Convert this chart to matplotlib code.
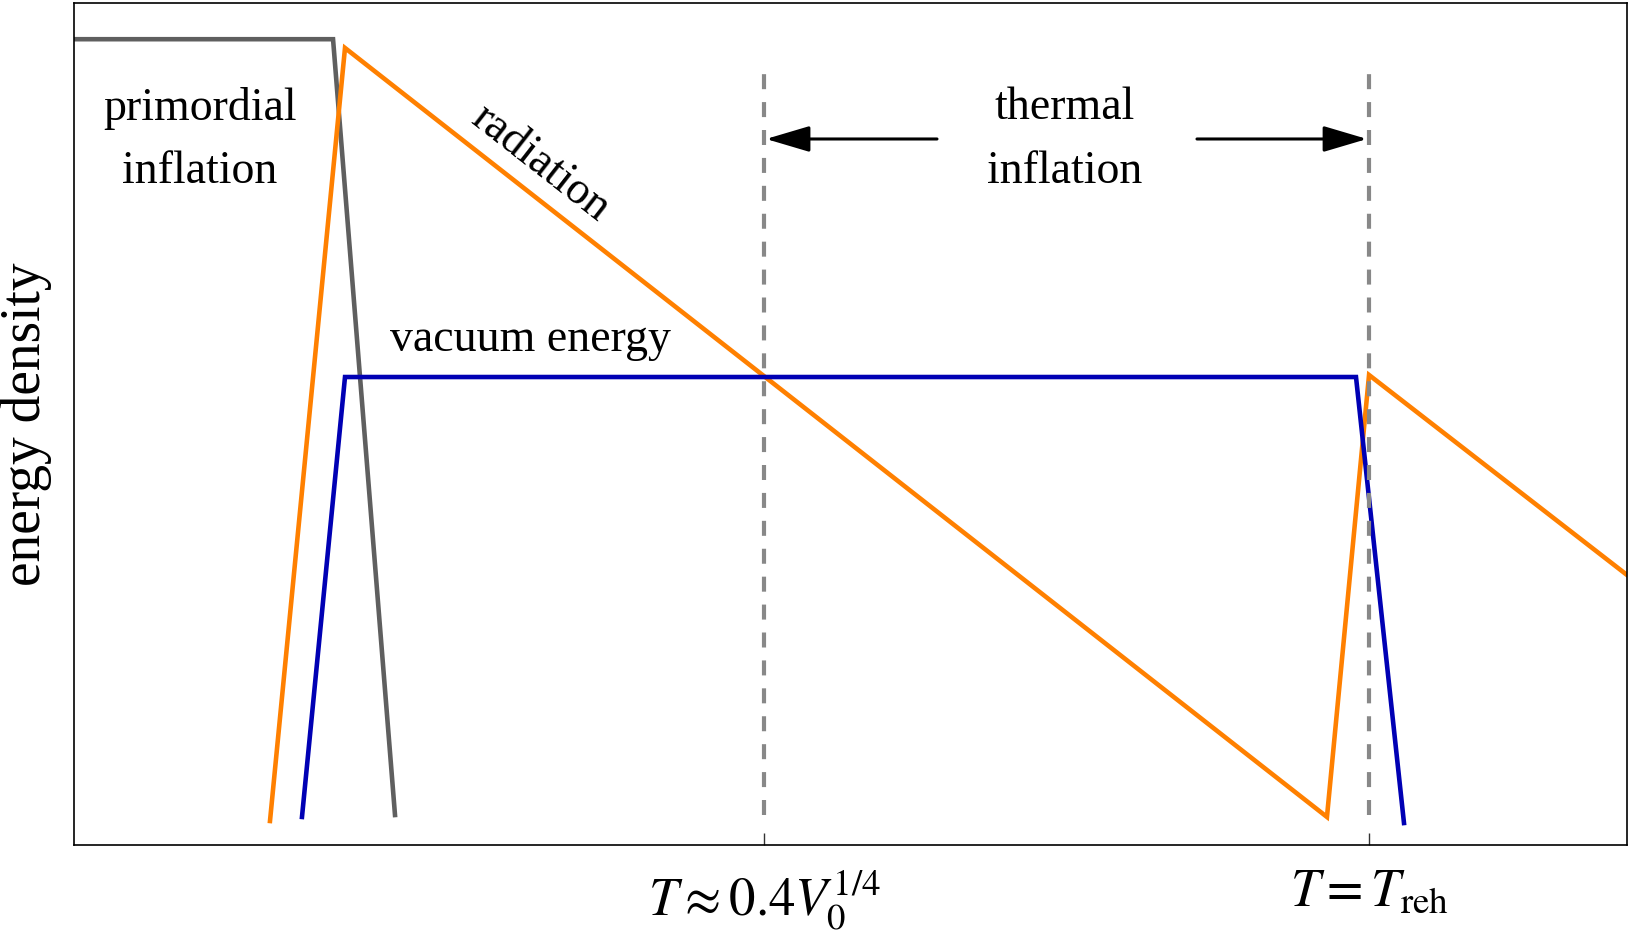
import numpy as np
import matplotlib.pyplot as plt

plt.rcParams['font.family'] = 'Liberation Serif'
plt.rcParams['mathtext.fontset'] = 'stix'

# piecewise curves (x ~ time / log scale factor, y ~ log energy density)
gray_x = [0.0, 16.68, 20.67]
gray_y = [95.7, 95.7, 3.56]

orange_x = [12.62, 17.45, 80.68, 83.39, 100.0]
orange_y = [2.85, 94.66, 3.33, 55.82, 32.07]

blue_x = [14.68, 17.45, 82.55, 85.64]
blue_y = [3.33, 55.58, 55.58, 2.61]

marks = [44.43, 83.39]
mark_labels = [r'$T\approx 0.4V_0^{1/4}$', r'$T=T_{\rm reh}$']

fig = plt.figure(figsize=(16.29, 9.39), dpi=100)
ax = fig.add_axes([74/1629, 1 - 845/939, 1553/1629, 842/939])

c_orange = '#ff8000'
c_blue = '#0000b4'
c_gray = '#5f5f5f'

ax.plot(gray_x, gray_y, color=c_gray, lw=3.3, solid_joinstyle='miter')
ax.plot(orange_x, orange_y, color=c_orange, lw=3.3, solid_joinstyle='miter')
ax.plot(blue_x, blue_y, color=c_blue, lw=3.3, solid_joinstyle='miter')

for xm in marks:
    ax.plot([xm, xm], [3.6, 92.0], color='#888888', lw=3, ls=(0, (3.6, 3.1)))

ax.set_xlim(0, 100)
ax.set_ylim(0, 100)
ax.set_yticks([])
ax.set_xticks(marks)
ax.set_xticklabels(mark_labels, fontsize=38)
ax.tick_params(axis='x', direction='in', length=9, width=1, pad=17, color='#333333')
for sp in ax.spines.values():
    sp.set_linewidth(1.2)

txt = dict(fontsize=33, ha='center', va='center', linespacing=1.65)
ax.text(8.11, 83.75, 'primordial\ninflation', **txt)
ax.text(63.8, 83.75, 'thermal\ninflation', **txt)
ax.text(29.4, 60.0, 'vacuum energy', **txt)
ax.text(30.0, 81.0, 'radiation', fontsize=33, ha='center', va='center',
        rotation=-38, rotation_mode='anchor')

arrow = dict(arrowstyle='-|>,head_length=2.7,head_width=0.8', color='black',
             lw=2.2, mutation_scale=10, shrinkA=0, shrinkB=0)
ax.annotate('', xy=(44.56, 83.85), xytext=(55.57, 83.85), arrowprops=arrow)
ax.annotate('', xy=(83.26, 83.85), xytext=(72.31, 83.85), arrowprops=arrow)

fig.text(26/1629, 1 - 424/939, 'energy density', fontsize=40, rotation=90,
         ha='center', va='center')

fig.savefig('out.png', dpi=100)
